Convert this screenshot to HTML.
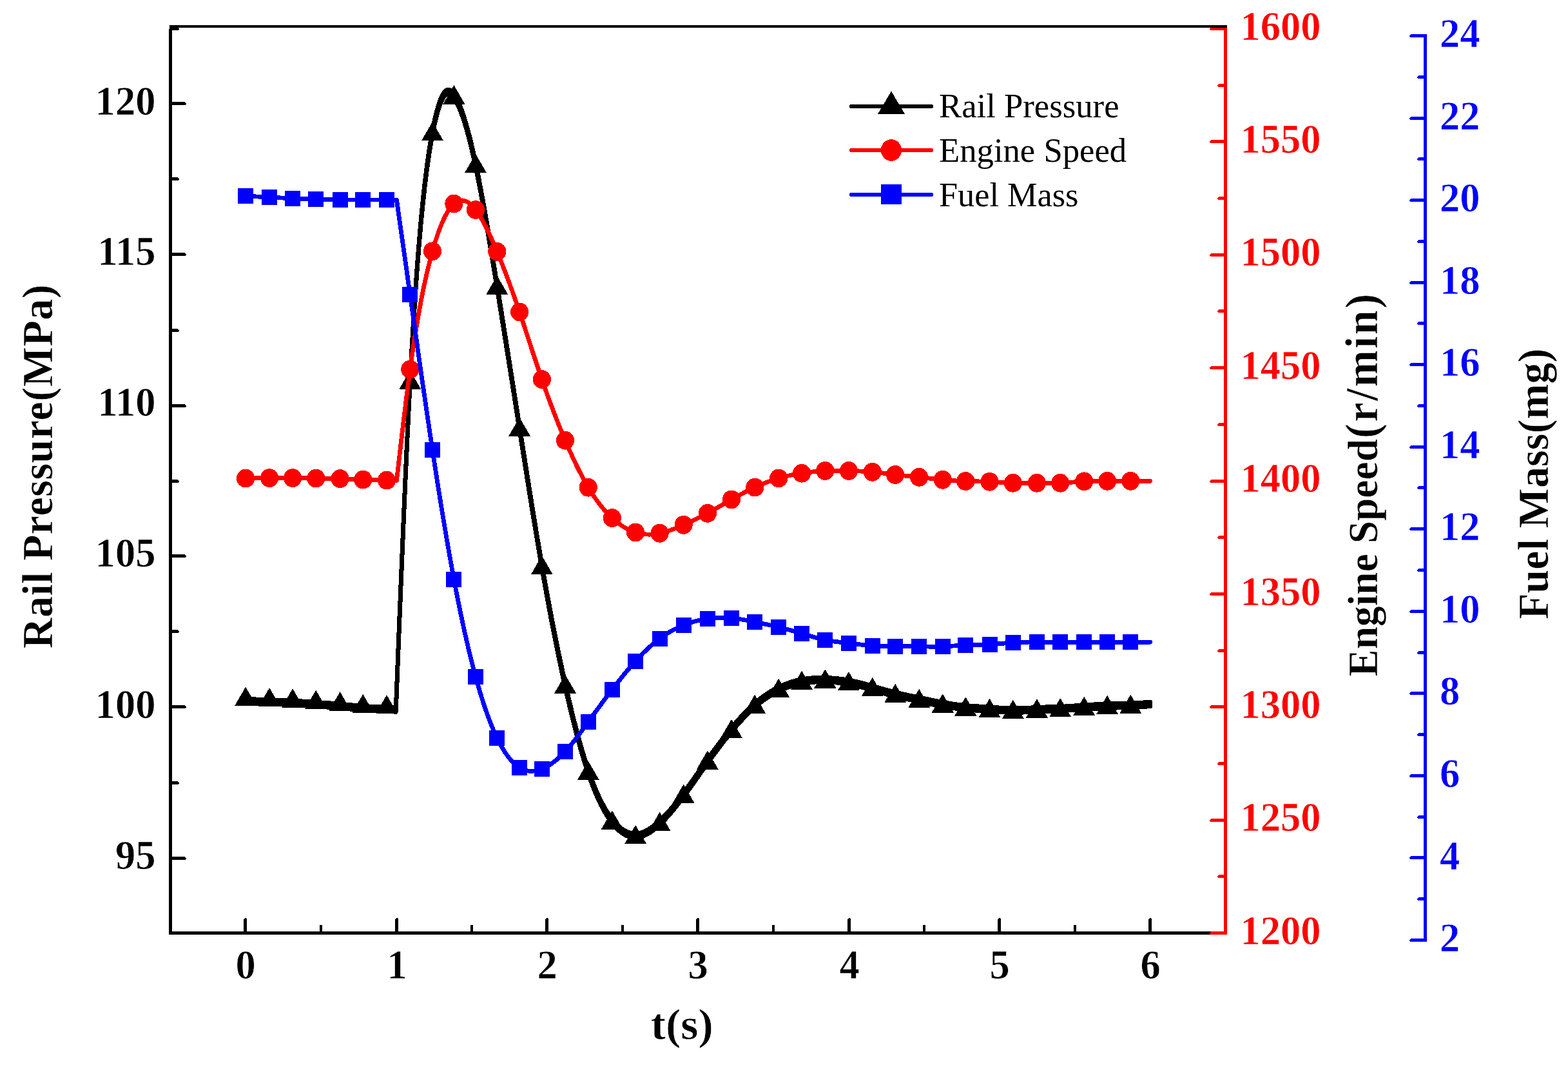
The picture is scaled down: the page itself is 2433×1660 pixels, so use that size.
<!DOCTYPE html>
<html lang="en"><head><meta charset="utf-8"><title>Rail pressure, engine speed and fuel mass</title>
<style>
html,body{margin:0;padding:0;background:#fff;}
body{width:2433px;height:1660px;overflow:hidden;}
svg{display:block;}
text{font-family:"Liberation Serif","DejaVu Serif",serif;}
.b{font-weight:bold;stroke:#fff;stroke-width:0.6px;}
.tk{font-weight:bold;font-size:63.2px;stroke-width:0.6px;}
.ti{font-weight:bold;font-size:66px;stroke:#fff;stroke-width:0.6px;}
.tx{font-weight:bold;font-size:68.5px;stroke:#fff;stroke-width:0.6px;}
.lg{font-size:52.5px;}
</style></head><body>
<svg width="2433" height="1660" viewBox="0 0 2433 1660" role="img" aria-label="Rail pressure, engine speed and fuel mass versus time">
<rect x="0" y="0" width="2433" height="1660" fill="#fff"/>
<defs>
<polyline id="ck" points="381.1,1087.7 418.1,1088.9 454.1,1090.2 490.2,1092.7 527.6,1095.2 563.2,1098.9 600,1100.1 614.3,1101 617.3,1025.4 620.3,950.5 623.3,877 626.3,805.6 629.3,736.9 632.3,671.8 635.3,610.9 638.3,554.8 641.3,503.6 644.3,457.1 647.3,415 650.3,377.1 653.3,343 656.3,312.5 659.3,285.3 662.3,261.2 665.3,239.8 668.3,220.9 671.3,204.3 674.3,189.7 677.3,177.1 680.3,166.5 683.3,157.8 686.3,151.1 689.3,146.3 692.3,143.4 695.3,142.4 698.3,143.2 701.3,145.5 704.3,149.1 707.3,153.7 710.3,159.5 713.3,166.2 716.3,173.9 719.3,182.5 722.3,192.1 725.3,202.5 728.3,213.8 731.3,225.9 734.3,238.8 737.3,252.5 740.3,266.9 743.3,282 746.3,297.7 749.3,313.9 752.3,330.7 755.3,347.9 758.3,365.4 761.3,383.3 764.3,401.5 767.3,419.9 770.3,438.4 773.3,457 776.3,475.7 779.3,494.5 782.3,513.3 785.3,532.1 788.3,551 791.3,570 794.3,589 797.3,608 800.3,627.1 803.3,646.2 806.3,665.3 809.3,684.4 812.3,703.5 815.3,722.6 818.3,741.5 821.3,760.4 824.3,779.2 827.3,797.7 830.3,816.1 833.3,834.2 836.3,852.1 839.3,869.7 842.3,887 845.3,903.9 848.3,920.5 851.3,936.8 854.3,952.8 857.3,968.4 860.3,983.7 863.3,998.6 866.3,1013.3 869.3,1027.6 872.3,1041.7 875.3,1055.4 878.3,1068.8 881.3,1081.9 884.3,1094.6 887.3,1107 890.3,1119.1 893.3,1130.8 896.3,1142.2 899.3,1153.1 902.3,1163.6 905.3,1173.8 908.3,1183.5 911.3,1192.7 914.3,1201.5 917.3,1209.9 920.3,1217.8 923.3,1225.3 926.3,1232.4 929.3,1239 932.3,1245.2 935.3,1251 938.3,1256.5 941.3,1261.5 944.3,1266.2 947.3,1270.6 950.3,1274.5 953.3,1278.2 956.3,1281.5 959.3,1284.4 962.3,1287 965.3,1289.3 968.3,1291.3 971.3,1292.9 974.3,1294.2 977.3,1295.2 980.3,1295.9 983.3,1296.3 986.3,1296.4 989.3,1296.2 992.3,1295.7 995.3,1294.9 998.3,1293.8 1001.3,1292.5 1004.3,1291 1007.3,1289.3 1010.3,1287.3 1013.3,1285.1 1016.3,1282.8 1019.3,1280.3 1022.3,1277.6 1025.3,1274.8 1028.3,1271.8 1031.3,1268.8 1034.3,1265.5 1037.3,1262.2 1040.3,1258.8 1043.3,1255.3 1046.3,1251.6 1049.3,1247.9 1052.3,1244.1 1055.3,1240.2 1058.3,1236.3 1061.3,1232.3 1064.3,1228.2 1067.3,1224.1 1070.3,1219.9 1073.3,1215.7 1076.3,1211.5 1079.3,1207.2 1082.3,1202.9 1085.3,1198.7 1088.3,1194.4 1091.3,1190.1 1094.3,1185.9 1097.3,1181.7 1100.3,1177.5 1103.3,1173.4 1106.3,1169.3 1109.3,1165.2 1112.3,1161.2 1115.3,1157.2 1118.3,1153.3 1121.3,1149.4 1124.3,1145.5 1127.3,1141.8 1130.3,1138 1133.3,1134.4 1136.3,1130.7 1139.3,1127.2 1142.3,1123.7 1145.3,1120.3 1148.3,1116.9 1151.3,1113.6 1154.3,1110.4 1157.3,1107.3 1160.3,1104.3 1163.3,1101.4 1166.3,1098.5 1169.3,1095.8 1172.3,1093.1 1175.3,1090.6 1178.3,1088.2 1181.3,1085.8 1184.3,1083.6 1187.3,1081.5 1190.3,1079.4 1193.3,1077.5 1196.3,1075.6 1199.3,1073.8 1202.3,1072.1 1205.3,1070.6 1208.3,1069.1 1211.3,1067.6 1214.3,1066.3 1217.3,1065 1220.3,1063.9 1223.3,1062.8 1226.3,1061.7 1229.3,1060.8 1232.3,1059.9 1235.3,1059.1 1238.3,1058.4 1241.3,1057.7 1244.3,1057.2 1247.3,1056.6 1250.3,1056.2 1253.3,1055.8 1256.3,1055.5 1259.3,1055.2 1262.3,1055 1265.3,1054.8 1268.3,1054.7 1271.3,1054.7 1274.3,1054.6 1277.3,1054.6 1280.3,1054.7 1283.3,1054.8 1286.3,1054.9 1289.3,1055.1 1292.3,1055.3 1295.3,1055.5 1298.3,1055.8 1301.3,1056.1 1304.3,1056.5 1307.3,1056.9 1310.3,1057.3 1313.3,1057.8 1316.3,1058.3 1319.3,1058.8 1322.3,1059.4 1325.3,1060.1 1328.3,1060.7 1331.3,1061.4 1334.3,1062.2 1337.3,1062.9 1340.3,1063.7 1343.3,1064.5 1346.3,1065.3 1349.3,1066.2 1352.3,1067 1355.3,1067.9 1358.3,1068.7 1361.3,1069.6 1364.3,1070.5 1367.3,1071.3 1370.3,1072.2 1373.3,1073 1376.3,1073.9 1379.3,1074.7 1382.3,1075.5 1385.3,1076.3 1388.3,1077.1 1391.3,1077.8 1394.3,1078.5 1397.3,1079.2 1400.3,1079.9 1403.3,1080.6 1406.3,1081.2 1409.3,1081.8 1412.3,1082.5 1415.3,1083.1 1418.3,1083.7 1421.3,1084.3 1424.3,1084.9 1427.3,1085.5 1430.3,1086.2 1433.3,1086.8 1436.3,1087.4 1439.3,1088 1442.3,1088.7 1445.3,1089.3 1448.3,1089.9 1451.3,1090.5 1454.3,1091.1 1457.3,1091.7 1460.3,1092.3 1463.3,1092.8 1466.3,1093.3 1469.3,1093.9 1472.3,1094.3 1475.3,1094.8 1478.3,1095.3 1481.3,1095.7 1484.3,1096.1 1487.3,1096.5 1490.3,1096.9 1493.3,1097.2 1496.3,1097.5 1499.3,1097.8 1502.3,1098.1 1505.3,1098.3 1508.3,1098.5 1511.3,1098.7 1514.3,1098.9 1517.3,1099.1 1520.3,1099.3 1523.3,1099.5 1526.3,1099.6 1529.3,1099.8 1532.3,1100 1535.3,1100.2 1538.3,1100.4 1541.3,1100.6 1544.3,1100.8 1547.3,1101 1550.3,1101.3 1553.3,1101.5 1556.3,1101.6 1559.3,1101.8 1562.3,1102 1565.3,1102.1 1568.3,1102.2 1571.3,1102.2 1574.3,1102.2 1577.3,1102.2 1580.3,1102.1 1583.3,1102 1586.3,1101.9 1589.3,1101.7 1592.3,1101.6 1595.3,1101.4 1598.3,1101.3 1601.3,1101.1 1604.3,1100.9 1607.3,1100.8 1610.3,1100.6 1613.3,1100.5 1616.3,1100.4 1619.3,1100.3 1622.3,1100.2 1625.3,1100.1 1628.3,1100.1 1631.3,1100 1634.3,1099.9 1637.3,1099.8 1640.3,1099.7 1643.3,1099.6 1646.3,1099.5 1649.3,1099.3 1652.3,1099.2 1655.3,1099 1658.3,1098.8 1661.3,1098.6 1664.3,1098.4 1667.3,1098.2 1670.3,1098 1673.3,1097.8 1676.3,1097.6 1679.3,1097.4 1682.3,1097.2 1685.3,1097 1688.3,1096.8 1691.3,1096.6 1694.3,1096.4 1697.3,1096.2 1700.3,1096 1703.3,1095.9 1706.3,1095.7 1709.3,1095.6 1712.3,1095.4 1715.3,1095.3 1718.3,1095.2 1721.3,1095.1 1724.3,1095 1727.3,1094.9 1730.3,1094.9 1733.3,1094.8 1736.3,1094.7 1739.3,1094.6 1742.3,1094.6 1745.3,1094.5 1748.3,1094.4 1751.3,1094.3 1754.3,1094.2 1757.3,1094.1 1760.3,1093.9 1763.3,1093.8 1766.3,1093.6 1769.3,1093.5 1772.3,1093.3 1775.3,1093.1 1778.3,1092.9 1781.3,1092.7 1784.3,1092.5 1784.5,1092.5"/>
<polyline id="cr" points="381.1,742.1 418.1,741.6 454.1,741.6 490.2,742.1 527.6,742.6 563.2,744.1 600,745.1 615.5,745.5 618.5,719.2 621.5,693.2 624.5,667.4 627.5,642.2 630.5,617.8 633.5,594.2 636.5,571.6 639.5,550.3 642.5,530.2 645.5,511.2 648.5,493.3 651.5,476.5 654.5,460.6 657.5,445.8 660.5,431.9 663.5,418.8 666.5,406.6 669.5,395.2 672.5,384.6 675.5,374.6 678.5,365.4 681.5,357 684.5,349.2 687.5,342.2 690.5,335.9 693.5,330.3 696.5,325.4 699.5,321.3 702.5,317.8 705.5,315.1 708.5,313 711.5,311.7 714.5,311 717.5,310.9 720.5,311.4 723.5,312.5 726.5,314.2 729.5,316.4 732.5,319.2 735.5,322.4 738.5,326.2 741.5,330.3 744.5,334.9 747.5,339.9 750.5,345.3 753.5,351 756.5,357 759.5,363.3 762.5,369.9 765.5,376.7 768.5,383.7 771.5,390.9 774.5,398.2 777.5,405.7 780.5,413.3 783.5,421.1 786.5,429 789.5,437 792.5,445.2 795.5,453.5 798.5,462 801.5,470.6 804.5,479.3 807.5,488.1 810.5,497.1 813.5,506.1 816.5,515.3 819.5,524.4 822.5,533.6 825.5,542.8 828.5,551.9 831.5,561 834.5,570 837.5,578.9 840.5,587.7 843.5,596.4 846.5,604.9 849.5,613.2 852.5,621.4 855.5,629.5 858.5,637.4 861.5,645.1 864.5,652.8 867.5,660.3 870.5,667.7 873.5,674.9 876.5,682 879.5,689 882.5,695.9 885.5,702.6 888.5,709.2 891.5,715.6 894.5,721.9 897.5,728 900.5,733.9 903.5,739.6 906.5,745.2 909.5,750.5 912.5,755.7 915.5,760.6 918.5,765.4 921.5,769.9 924.5,774.3 927.5,778.4 930.5,782.4 933.5,786.1 936.5,789.7 939.5,793.1 942.5,796.4 945.5,799.5 948.5,802.4 951.5,805.1 954.5,807.8 957.5,810.2 960.5,812.5 963.5,814.7 966.5,816.7 969.5,818.5 972.5,820.2 975.5,821.8 978.5,823.1 981.5,824.4 984.5,825.5 987.5,826.4 990.5,827.2 993.5,827.9 996.5,828.4 999.5,828.7 1002.5,829 1005.5,829.1 1008.5,829.1 1011.5,829 1014.5,828.7 1017.5,828.3 1020.5,827.9 1023.5,827.3 1026.5,826.7 1029.5,825.9 1032.5,825.1 1035.5,824.1 1038.5,823.2 1041.5,822.1 1044.5,821 1047.5,819.8 1050.5,818.6 1053.5,817.4 1056.5,816.1 1059.5,814.8 1062.5,813.5 1065.5,812.1 1068.5,810.8 1071.5,809.4 1074.5,808 1077.5,806.6 1080.5,805.2 1083.5,803.7 1086.5,802.2 1089.5,800.7 1092.5,799.1 1095.5,797.5 1098.5,795.9 1101.5,794.3 1104.5,792.6 1107.5,790.9 1110.5,789.2 1113.5,787.4 1116.5,785.7 1119.5,783.9 1122.5,782.2 1125.5,780.4 1128.5,778.6 1131.5,776.9 1134.5,775.2 1137.5,773.5 1140.5,771.8 1143.5,770.1 1146.5,768.5 1149.5,766.9 1152.5,765.3 1155.5,763.8 1158.5,762.2 1161.5,760.7 1164.5,759.3 1167.5,757.8 1170.5,756.4 1173.5,755 1176.5,753.7 1179.5,752.4 1182.5,751.1 1185.5,749.9 1188.5,748.7 1191.5,747.5 1194.5,746.4 1197.5,745.3 1200.5,744.3 1203.5,743.3 1206.5,742.4 1209.5,741.5 1212.5,740.7 1215.5,739.9 1218.5,739.1 1221.5,738.4 1224.5,737.8 1227.5,737.1 1230.5,736.5 1233.5,736 1236.5,735.4 1239.5,734.9 1242.5,734.5 1245.5,734 1248.5,733.5 1251.5,733.1 1254.5,732.7 1257.5,732.4 1260.5,732 1263.5,731.7 1266.5,731.4 1269.5,731.1 1272.5,730.9 1275.5,730.7 1278.5,730.5 1281.5,730.3 1284.5,730.2 1287.5,730.1 1290.5,730.1 1293.5,730.1 1296.5,730.1 1299.5,730.1 1302.5,730.1 1305.5,730.1 1308.5,730.2 1311.5,730.3 1314.5,730.3 1317.5,730.4 1320.5,730.5 1323.5,730.6 1326.5,730.7 1329.5,730.8 1332.5,730.9 1335.5,731.1 1338.5,731.2 1341.5,731.4 1344.5,731.6 1347.5,731.8 1350.5,732 1353.5,732.3 1356.5,732.6 1359.5,732.9 1362.5,733.2 1365.5,733.6 1368.5,733.9 1371.5,734.3 1374.5,734.7 1377.5,735.1 1380.5,735.4 1383.5,735.8 1386.5,736.2 1389.5,736.5 1392.5,736.9 1395.5,737.2 1398.5,737.5 1401.5,737.8 1404.5,738.1 1407.5,738.4 1410.5,738.7 1413.5,739 1416.5,739.3 1419.5,739.6 1422.5,739.9 1425.5,740.2 1428.5,740.5 1431.5,740.9 1434.5,741.2 1437.5,741.6 1440.5,741.9 1443.5,742.2 1446.5,742.6 1449.5,742.9 1452.5,743.3 1455.5,743.6 1458.5,743.9 1461.5,744.2 1464.5,744.5 1467.5,744.7 1470.5,745 1473.5,745.2 1476.5,745.4 1479.5,745.6 1482.5,745.8 1485.5,746 1488.5,746.1 1491.5,746.3 1494.5,746.4 1497.5,746.5 1500.5,746.6 1503.5,746.6 1506.5,746.7 1509.5,746.7 1512.5,746.8 1515.5,746.8 1518.5,746.9 1521.5,746.9 1524.5,747 1527.5,747 1530.5,747.1 1533.5,747.2 1536.5,747.3 1539.5,747.5 1542.5,747.7 1545.5,747.8 1548.5,748 1551.5,748.2 1554.5,748.4 1557.5,748.6 1560.5,748.8 1563.5,748.9 1566.5,749.1 1569.5,749.2 1572.5,749.3 1575.5,749.4 1578.5,749.4 1581.5,749.5 1584.5,749.5 1587.5,749.5 1590.5,749.4 1593.5,749.4 1596.5,749.4 1599.5,749.3 1602.5,749.3 1605.5,749.3 1608.5,749.3 1611.5,749.3 1614.5,749.3 1617.5,749.4 1620.5,749.4 1623.5,749.4 1626.5,749.5 1629.5,749.5 1632.5,749.5 1635.5,749.5 1638.5,749.5 1641.5,749.4 1644.5,749.3 1647.5,749.2 1650.5,749 1653.5,748.9 1656.5,748.7 1659.5,748.4 1662.5,748.2 1665.5,748 1668.5,747.7 1671.5,747.5 1674.5,747.3 1677.5,747.1 1680.5,746.9 1683.5,746.7 1686.5,746.6 1689.5,746.5 1692.5,746.4 1695.5,746.4 1698.5,746.3 1701.5,746.3 1704.5,746.3 1707.5,746.3 1710.5,746.3 1713.5,746.3 1716.5,746.3 1719.5,746.3 1722.5,746.3 1725.5,746.3 1728.5,746.3 1731.5,746.3 1734.5,746.3 1737.5,746.3 1740.5,746.3 1743.5,746.3 1746.5,746.3 1749.5,746.3 1752.5,746.3 1755.5,746.3 1758.5,746.3 1761.5,746.3 1764.5,746.3 1767.5,746.3 1770.5,746.3 1773.5,746.3 1776.5,746.3 1779.5,746.3 1782.5,746.3 1784.5,746.3"/>
<polyline id="cb" points="381.1,304.1 418.1,306 454.1,307.9 490.2,309.1 527.6,309.9 563.2,309.9 600,310.1 615.5,310.3 618.5,331.5 621.5,352.7 624.5,373.9 627.5,395.1 630.5,416.3 633.5,437.5 636.5,458.7 639.5,480 642.5,501.2 645.5,522.4 648.5,543.5 651.5,564.6 654.5,585.6 657.5,606.4 660.5,627.1 663.5,647.6 666.5,667.9 669.5,688 672.5,707.8 675.5,727.3 678.5,746.6 681.5,765.6 684.5,784.2 687.5,802.6 690.5,820.6 693.5,838.2 696.5,855.4 699.5,872.3 702.5,888.7 705.5,904.7 708.5,920.3 711.5,935.5 714.5,950.2 717.5,964.4 720.5,978.3 723.5,991.6 726.5,1004.6 729.5,1017.1 732.5,1029.1 735.5,1040.7 738.5,1051.8 741.5,1062.5 744.5,1072.7 747.5,1082.5 750.5,1091.9 753.5,1100.8 756.5,1109.2 759.5,1117.3 762.5,1124.9 765.5,1132.1 768.5,1138.9 771.5,1145.3 774.5,1151.3 777.5,1156.9 780.5,1162.1 783.5,1166.9 786.5,1171.3 789.5,1175.3 792.5,1179 795.5,1182.3 798.5,1185.2 801.5,1187.8 804.5,1190 807.5,1191.8 810.5,1193.3 813.5,1194.5 816.5,1195.4 819.5,1196 822.5,1196.3 825.5,1196.3 828.5,1196.1 831.5,1195.6 834.5,1194.9 837.5,1194 840.5,1192.9 843.5,1191.7 846.5,1190.2 849.5,1188.6 852.5,1186.8 855.5,1184.9 858.5,1182.7 861.5,1180.4 864.5,1178 867.5,1175.3 870.5,1172.5 873.5,1169.6 876.5,1166.4 879.5,1163.1 882.5,1159.7 885.5,1156.1 888.5,1152.4 891.5,1148.6 894.5,1144.7 897.5,1140.8 900.5,1136.7 903.5,1132.6 906.5,1128.5 909.5,1124.4 912.5,1120.2 915.5,1116.1 918.5,1111.9 921.5,1107.8 924.5,1103.7 927.5,1099.6 930.5,1095.6 933.5,1091.5 936.5,1087.5 939.5,1083.5 942.5,1079.5 945.5,1075.5 948.5,1071.6 951.5,1067.7 954.5,1063.8 957.5,1060 960.5,1056.2 963.5,1052.4 966.5,1048.7 969.5,1045 972.5,1041.4 975.5,1037.8 978.5,1034.3 981.5,1030.8 984.5,1027.5 987.5,1024.2 990.5,1020.9 993.5,1017.8 996.5,1014.7 999.5,1011.7 1002.5,1008.8 1005.5,1006 1008.5,1003.2 1011.5,1000.6 1014.5,998 1017.5,995.5 1020.5,993.2 1023.5,990.9 1026.5,988.7 1029.5,986.6 1032.5,984.6 1035.5,982.7 1038.5,980.8 1041.5,979.1 1044.5,977.5 1047.5,975.9 1050.5,974.4 1053.5,973 1056.5,971.6 1059.5,970.3 1062.5,969.1 1065.5,968 1068.5,967 1071.5,966 1074.5,965 1077.5,964.2 1080.5,963.4 1083.5,962.6 1086.5,961.9 1089.5,961.3 1092.5,960.7 1095.5,960.2 1098.5,959.8 1101.5,959.4 1104.5,959.1 1107.5,958.8 1110.5,958.6 1113.5,958.4 1116.5,958.3 1119.5,958.3 1122.5,958.3 1125.5,958.3 1128.5,958.4 1131.5,958.6 1134.5,958.9 1137.5,959.1 1140.5,959.5 1143.5,959.9 1146.5,960.3 1149.5,960.8 1152.5,961.3 1155.5,961.8 1158.5,962.4 1161.5,963 1164.5,963.5 1167.5,964.1 1170.5,964.8 1173.5,965.4 1176.5,966 1179.5,966.6 1182.5,967.2 1185.5,967.8 1188.5,968.5 1191.5,969.1 1194.5,969.8 1197.5,970.4 1200.5,971.1 1203.5,971.8 1206.5,972.5 1209.5,973.2 1212.5,974 1215.5,974.7 1218.5,975.5 1221.5,976.3 1224.5,977.1 1227.5,978 1230.5,978.8 1233.5,979.7 1236.5,980.5 1239.5,981.4 1242.5,982.3 1245.5,983.2 1248.5,984.1 1251.5,985 1254.5,986 1257.5,986.9 1260.5,987.7 1263.5,988.6 1266.5,989.4 1269.5,990.2 1272.5,991 1275.5,991.7 1278.5,992.4 1281.5,993 1284.5,993.6 1287.5,994.1 1290.5,994.6 1293.5,995 1296.5,995.5 1299.5,995.8 1302.5,996.2 1305.5,996.5 1308.5,996.9 1311.5,997.2 1314.5,997.5 1317.5,997.9 1320.5,998.2 1323.5,998.6 1326.5,998.9 1329.5,999.3 1332.5,999.7 1335.5,1000 1338.5,1000.4 1341.5,1000.7 1344.5,1001 1347.5,1001.3 1350.5,1001.5 1353.5,1001.8 1356.5,1002 1359.5,1002.2 1362.5,1002.3 1365.5,1002.4 1368.5,1002.5 1371.5,1002.6 1374.5,1002.7 1377.5,1002.7 1380.5,1002.8 1383.5,1002.8 1386.5,1002.8 1389.5,1002.8 1392.5,1002.8 1395.5,1002.8 1398.5,1002.8 1401.5,1002.8 1404.5,1002.8 1407.5,1002.8 1410.5,1002.8 1413.5,1002.8 1416.5,1002.8 1419.5,1002.8 1422.5,1002.9 1425.5,1002.9 1428.5,1002.9 1431.5,1003 1434.5,1003 1437.5,1003 1440.5,1003.1 1443.5,1003.1 1446.5,1003.1 1449.5,1003.1 1452.5,1003.1 1455.5,1003.1 1458.5,1003 1461.5,1002.9 1464.5,1002.8 1467.5,1002.7 1470.5,1002.5 1473.5,1002.4 1476.5,1002.2 1479.5,1002 1482.5,1001.8 1485.5,1001.6 1488.5,1001.4 1491.5,1001.2 1494.5,1001.1 1497.5,1000.9 1500.5,1000.8 1503.5,1000.7 1506.5,1000.7 1509.5,1000.6 1512.5,1000.5 1515.5,1000.5 1518.5,1000.5 1521.5,1000.4 1524.5,1000.3 1527.5,1000.2 1530.5,1000.1 1533.5,1000 1536.5,999.8 1539.5,999.6 1542.5,999.4 1545.5,999.2 1548.5,998.9 1551.5,998.6 1554.5,998.4 1557.5,998.1 1560.5,997.8 1563.5,997.5 1566.5,997.3 1569.5,997.1 1572.5,996.9 1575.5,996.7 1578.5,996.5 1581.5,996.4 1584.5,996.3 1587.5,996.3 1590.5,996.2 1593.5,996.2 1596.5,996.1 1599.5,996.1 1602.5,996.1 1605.5,996.1 1608.5,996.1 1611.5,996.1 1614.5,996.1 1617.5,996.1 1620.5,996.1 1623.5,996.1 1626.5,996.1 1629.5,996.1 1632.5,996.1 1635.5,996.1 1638.5,996.1 1641.5,996.1 1644.5,996.1 1647.5,996.1 1650.5,996.1 1653.5,996.1 1656.5,996.1 1659.5,996.1 1662.5,996.1 1665.5,996.1 1668.5,996.1 1671.5,996.1 1674.5,996.1 1677.5,996.1 1680.5,996.1 1683.5,996.1 1686.5,996.1 1689.5,996.1 1692.5,996.1 1695.5,996.1 1698.5,996.1 1701.5,996.1 1704.5,996.1 1707.5,996.1 1710.5,996.1 1713.5,996.1 1716.5,996.1 1719.5,996.1 1722.5,996.1 1725.5,996.1 1728.5,996.1 1731.5,996.1 1734.5,996.1 1737.5,996.1 1740.5,996.1 1743.5,996.1 1746.5,996.1 1749.5,996.1 1752.5,996.1 1755.5,996.1 1758.5,996.1 1761.5,996.1 1764.5,996.1 1767.5,996.1 1770.5,996.1 1773.5,996.1 1776.5,996.1 1779.5,996.1 1782.5,996.1 1784.5,996.1"/>
</defs>
<g shape-rendering="crispEdges" stroke-linejoin="round" stroke-linecap="round">
<g fill="none" stroke="#000" stroke-width="6.8">
<use href="#ck" transform="translate(0,-3.3)"/>
<use href="#ck" transform="translate(0,0)"/>
<use href="#ck" transform="translate(0,3.3)"/>
</g>
<g fill="#000">
<polygon points="364.1,1095 398.1,1095 381.1,1065.7"/>
<polygon points="401.1,1096.2 435.1,1096.2 418.1,1066.9"/>
<polygon points="437.1,1097.5 471.1,1097.5 454.1,1068.2"/>
<polygon points="473.2,1100 507.2,1100 490.2,1070.7"/>
<polygon points="510.6,1102.5 544.6,1102.5 527.6,1073.2"/>
<polygon points="546.2,1106.2 580.2,1106.2 563.2,1076.9"/>
<polygon points="583,1107.4 617,1107.4 600,1078.1"/>
<polygon points="619.3,603.9 653.3,603.9 636.3,574.6"/>
<polygon points="654,218.2 688,218.2 671,188.9"/>
<polygon points="687.4,161.5 721.4,161.5 704.4,132.2"/>
<polygon points="721,268.1 755,268.1 738,238.8"/>
<polygon points="754.3,456.9 788.3,456.9 771.3,427.6"/>
<polygon points="789.1,676.8 823.1,676.8 806.1,647.5"/>
<polygon points="823.8,891.2 857.8,891.2 840.8,861.9"/>
<polygon points="860,1075.8 894,1075.8 877,1046.5"/>
<polygon points="895.8,1210 929.8,1210 912.8,1180.7"/>
<polygon points="932.8,1286.7 966.8,1286.7 949.8,1257.4"/>
<polygon points="969.1,1309.2 1003.1,1309.2 986.1,1279.9"/>
<polygon points="1006.6,1289.2 1040.6,1289.2 1023.6,1259.9"/>
<polygon points="1043.6,1246 1077.6,1246 1060.6,1216.7"/>
<polygon points="1080.8,1193.8 1114.8,1193.8 1097.8,1164.5"/>
<polygon points="1118,1145.1 1152,1145.1 1135,1115.8"/>
<polygon points="1154.2,1106.9 1188.2,1106.9 1171.2,1077.6"/>
<polygon points="1191.2,1081.9 1225.2,1081.9 1208.2,1052.6"/>
<polygon points="1227.1,1070 1261.1,1070 1244.1,1040.7"/>
<polygon points="1263.3,1067.5 1297.3,1067.5 1280.3,1038.2"/>
<polygon points="1299.9,1071.2 1333.9,1071.2 1316.9,1041.9"/>
<polygon points="1336.7,1080.2 1370.7,1080.2 1353.7,1050.9"/>
<polygon points="1372.2,1090.1 1406.2,1090.1 1389.2,1060.8"/>
<polygon points="1409.2,1098.1 1443.2,1098.1 1426.2,1068.8"/>
<polygon points="1445.7,1105.5 1479.7,1105.5 1462.7,1076.2"/>
<polygon points="1481.3,1110.5 1515.3,1110.5 1498.3,1081.2"/>
<polygon points="1518.5,1113 1552.5,1113 1535.5,1083.7"/>
<polygon points="1554.8,1115 1588.8,1115 1571.8,1085.7"/>
<polygon points="1591.9,1113.5 1625.9,1113.5 1608.9,1084.2"/>
<polygon points="1628.2,1112.3 1662.2,1112.3 1645.2,1083"/>
<polygon points="1665.2,1110 1699.2,1110 1682.2,1080.7"/>
<polygon points="1701.1,1108 1735.1,1108 1718.1,1078.7"/>
<polygon points="1737.3,1107 1771.3,1107 1754.3,1077.7"/>
</g>
<g fill="none" stroke="#ff0000">
<use href="#cr" stroke-width="6.8"/>
<use href="#cr" stroke-width="4" shape-rendering="geometricPrecision"/>
</g>
<g fill="#ff0000">
<ellipse cx="381.1" cy="742.1" rx="14.1" ry="14.4"/>
<ellipse cx="418.1" cy="741.6" rx="14.1" ry="14.4"/>
<ellipse cx="454.1" cy="741.6" rx="14.1" ry="14.4"/>
<ellipse cx="490.2" cy="742.1" rx="14.1" ry="14.4"/>
<ellipse cx="527.6" cy="742.6" rx="14.1" ry="14.4"/>
<ellipse cx="563.2" cy="744.1" rx="14.1" ry="14.4"/>
<ellipse cx="600" cy="745.1" rx="14.1" ry="14.4"/>
<ellipse cx="636.3" cy="573.1" rx="14.1" ry="14.4"/>
<ellipse cx="671" cy="389.8" rx="14.1" ry="14.4"/>
<ellipse cx="704.4" cy="316" rx="14.1" ry="14.4"/>
<ellipse cx="738" cy="325.5" rx="14.1" ry="14.4"/>
<ellipse cx="771.3" cy="390.4" rx="14.1" ry="14.4"/>
<ellipse cx="806.1" cy="484" rx="14.1" ry="14.4"/>
<ellipse cx="840.8" cy="588.6" rx="14.1" ry="14.4"/>
<ellipse cx="877" cy="683.2" rx="14.1" ry="14.4"/>
<ellipse cx="912.8" cy="756.2" rx="14.1" ry="14.4"/>
<ellipse cx="949.8" cy="803.6" rx="14.1" ry="14.4"/>
<ellipse cx="986.1" cy="826" rx="14.1" ry="14.4"/>
<ellipse cx="1023.6" cy="827.3" rx="14.1" ry="14.4"/>
<ellipse cx="1060.6" cy="814.3" rx="14.1" ry="14.4"/>
<ellipse cx="1097.8" cy="796.3" rx="14.1" ry="14.4"/>
<ellipse cx="1135" cy="774.9" rx="14.1" ry="14.4"/>
<ellipse cx="1171.2" cy="756.1" rx="14.1" ry="14.4"/>
<ellipse cx="1208.2" cy="741.9" rx="14.1" ry="14.4"/>
<ellipse cx="1244.1" cy="734.2" rx="14.1" ry="14.4"/>
<ellipse cx="1280.3" cy="730.4" rx="14.1" ry="14.4"/>
<ellipse cx="1316.9" cy="730.4" rx="14.1" ry="14.4"/>
<ellipse cx="1353.7" cy="732.3" rx="14.1" ry="14.4"/>
<ellipse cx="1389.2" cy="736.5" rx="14.1" ry="14.4"/>
<ellipse cx="1426.2" cy="740.3" rx="14.1" ry="14.4"/>
<ellipse cx="1462.7" cy="744.3" rx="14.1" ry="14.4"/>
<ellipse cx="1498.3" cy="746.5" rx="14.1" ry="14.4"/>
<ellipse cx="1535.5" cy="747.3" rx="14.1" ry="14.4"/>
<ellipse cx="1571.8" cy="749.3" rx="14.1" ry="14.4"/>
<ellipse cx="1608.9" cy="749.3" rx="14.1" ry="14.4"/>
<ellipse cx="1645.2" cy="749.3" rx="14.1" ry="14.4"/>
<ellipse cx="1682.2" cy="746.8" rx="14.1" ry="14.4"/>
<ellipse cx="1718.1" cy="746.3" rx="14.1" ry="14.4"/>
<ellipse cx="1754.3" cy="746.3" rx="14.1" ry="14.4"/>
</g>
<g fill="none" stroke="#0000ff">
<use href="#cb" stroke-width="6.8"/>
<use href="#cb" stroke-width="4" shape-rendering="geometricPrecision"/>
</g>
<g fill="#0000ff">
<rect x="369.1" y="292.1" width="24" height="24"/>
<rect x="406.1" y="294" width="24" height="24"/>
<rect x="442.1" y="295.9" width="24" height="24"/>
<rect x="478.2" y="297.1" width="24" height="24"/>
<rect x="515.6" y="297.9" width="24" height="24"/>
<rect x="551.2" y="297.9" width="24" height="24"/>
<rect x="588" y="298.1" width="24" height="24"/>
<rect x="624.3" y="445.3" width="24" height="24"/>
<rect x="659" y="685.9" width="24" height="24"/>
<rect x="692.4" y="886.9" width="24" height="24"/>
<rect x="726" y="1038" width="24" height="24"/>
<rect x="759.3" y="1132.9" width="24" height="24"/>
<rect x="794.1" y="1179" width="24" height="24"/>
<rect x="828.8" y="1180.8" width="24" height="24"/>
<rect x="865" y="1153.9" width="24" height="24"/>
<rect x="900.8" y="1107.8" width="24" height="24"/>
<rect x="937.8" y="1057.9" width="24" height="24"/>
<rect x="974.1" y="1013.7" width="24" height="24"/>
<rect x="1011.6" y="978.8" width="24" height="24"/>
<rect x="1048.6" y="957.9" width="24" height="24"/>
<rect x="1085.8" y="947.9" width="24" height="24"/>
<rect x="1123" y="946.9" width="24" height="24"/>
<rect x="1159.2" y="952.9" width="24" height="24"/>
<rect x="1196.2" y="960.9" width="24" height="24"/>
<rect x="1232.1" y="970.8" width="24" height="24"/>
<rect x="1268.3" y="980.8" width="24" height="24"/>
<rect x="1304.9" y="985.8" width="24" height="24"/>
<rect x="1341.7" y="989.8" width="24" height="24"/>
<rect x="1377.2" y="990.8" width="24" height="24"/>
<rect x="1414.2" y="990.9" width="24" height="24"/>
<rect x="1450.7" y="990.9" width="24" height="24"/>
<rect x="1486.3" y="988.9" width="24" height="24"/>
<rect x="1523.5" y="987.9" width="24" height="24"/>
<rect x="1559.8" y="984.9" width="24" height="24"/>
<rect x="1596.9" y="984.1" width="24" height="24"/>
<rect x="1633.2" y="984.1" width="24" height="24"/>
<rect x="1670.2" y="984.1" width="24" height="24"/>
<rect x="1706.1" y="984.1" width="24" height="24"/>
<rect x="1742.3" y="984.1" width="24" height="24"/>
</g>
</g>
<g shape-rendering="crispEdges">
<rect x="262" y="45" width="5" height="1405" fill="#000"/>
<rect x="262" y="1445" width="1642" height="5" fill="#000"/>
<polygon fill="#000" points="287,1329 262,1329 262,1334 288,1334 288,1333 289,1333 289,1331 288,1331 288,1330 287,1330"/>
<polygon fill="#000" points="276,1212 262,1212 262,1217 277,1217 277,1216 278,1216 278,1214 277,1214 277,1213 276,1213"/>
<polygon fill="#000" points="287,1094 262,1094 262,1099 288,1099 288,1098 289,1098 289,1096 288,1096 288,1095 287,1095"/>
<polygon fill="#000" points="276,977 262,977 262,982 277,982 277,981 278,981 278,979 277,979 277,978 276,978"/>
<polygon fill="#000" points="287,860 262,860 262,865 288,865 288,864 289,864 289,862 288,862 288,861 287,861"/>
<polygon fill="#000" points="276,744 262,744 262,749 277,749 277,748 278,748 278,746 277,746 277,745 276,745"/>
<polygon fill="#000" points="287,627 262,627 262,632 288,632 288,631 289,631 289,629 288,629 288,628 287,628"/>
<polygon fill="#000" points="276,510 262,510 262,515 277,515 277,514 278,514 278,512 277,512 277,511 276,511"/>
<polygon fill="#000" points="287,392 262,392 262,397 288,397 288,396 289,396 289,394 288,394 288,393 287,393"/>
<polygon fill="#000" points="276,275 262,275 262,280 277,280 277,279 278,279 278,277 277,277 277,276 276,276"/>
<polygon fill="#000" points="287,158 262,158 262,163 288,163 288,162 289,162 289,160 288,160 288,159 287,159"/>
<polygon fill="#000" points="276,42 263,42 263,47 277,47 277,46 278,46 278,44 277,44 277,43 276,43"/>
<polygon fill="#000" points="378,1446 378,1426 379,1426 379,1425 380,1425 380,1424 382,1424 382,1425 383,1425 383,1446"/>
<polygon fill="#000" points="613,1446 613,1426 614,1426 614,1425 615,1425 615,1424 617,1424 617,1425 618,1425 618,1446"/>
<polygon fill="#000" points="846,1446 846,1426 847,1426 847,1425 848,1425 848,1424 850,1424 850,1425 851,1425 851,1446"/>
<polygon fill="#000" points="1080,1446 1080,1426 1081,1426 1081,1425 1082,1425 1082,1424 1084,1424 1084,1425 1085,1425 1085,1446"/>
<polygon fill="#000" points="1315,1446 1315,1426 1316,1426 1316,1425 1317,1425 1317,1424 1319,1424 1319,1425 1320,1425 1320,1446"/>
<polygon fill="#000" points="1548,1446 1548,1426 1549,1426 1549,1425 1550,1425 1550,1424 1552,1424 1552,1425 1553,1425 1553,1446"/>
<polygon fill="#000" points="1782,1446 1782,1426 1783,1426 1783,1425 1784,1425 1784,1424 1786,1424 1786,1425 1787,1425 1787,1446"/>
<rect x="496" y="1435" width="4" height="11" fill="#000"/>
<rect x="730" y="1435" width="4" height="11" fill="#000"/>
<rect x="964" y="1435" width="4" height="11" fill="#000"/>
<rect x="1198" y="1435" width="4" height="11" fill="#000"/>
<rect x="1432" y="1435" width="4" height="11" fill="#000"/>
<rect x="1666" y="1435" width="4" height="11" fill="#000"/>
<rect x="1899" y="43" width="5" height="1407" fill="#f00"/>
<polygon fill="#f00" points="1879,1445 1904,1445 1904,1450 1879,1450 1879,1450 1878,1450 1878,1449 1877,1449 1877,1447 1878,1447 1878,1446 1879,1446"/>
<polygon fill="#f00" points="1891,1357 1904,1357 1904,1362 1891,1362 1891,1362 1890,1362 1890,1361 1889,1361 1889,1359 1890,1359 1890,1358 1891,1358"/>
<polygon fill="#f00" points="1879,1270 1904,1270 1904,1275 1879,1275 1879,1275 1878,1275 1878,1274 1877,1274 1877,1272 1878,1272 1878,1271 1879,1271"/>
<polygon fill="#f00" points="1891,1182 1904,1182 1904,1187 1891,1187 1891,1187 1890,1187 1890,1186 1889,1186 1889,1184 1890,1184 1890,1183 1891,1183"/>
<polygon fill="#f00" points="1879,1094 1904,1094 1904,1099 1879,1099 1879,1099 1878,1099 1878,1098 1877,1098 1877,1096 1878,1096 1878,1095 1879,1095"/>
<polygon fill="#f00" points="1891,1007 1904,1007 1904,1012 1891,1012 1891,1012 1890,1012 1890,1011 1889,1011 1889,1009 1890,1009 1890,1008 1891,1008"/>
<polygon fill="#f00" points="1879,919 1904,919 1904,924 1879,924 1879,924 1878,924 1878,923 1877,923 1877,921 1878,921 1878,920 1879,920"/>
<polygon fill="#f00" points="1891,831 1904,831 1904,836 1891,836 1891,836 1890,836 1890,835 1889,835 1889,833 1890,833 1890,832 1891,832"/>
<polygon fill="#f00" points="1879,744 1904,744 1904,749 1879,749 1879,749 1878,749 1878,748 1877,748 1877,746 1878,746 1878,745 1879,745"/>
<polygon fill="#f00" points="1891,656 1904,656 1904,661 1891,661 1891,661 1890,661 1890,660 1889,660 1889,658 1890,658 1890,657 1891,657"/>
<polygon fill="#f00" points="1879,568 1904,568 1904,573 1879,573 1879,573 1878,573 1878,572 1877,572 1877,570 1878,570 1878,569 1879,569"/>
<polygon fill="#f00" points="1891,480 1904,480 1904,485 1891,485 1891,485 1890,485 1890,484 1889,484 1889,482 1890,482 1890,481 1891,481"/>
<polygon fill="#f00" points="1879,393 1904,393 1904,398 1879,398 1879,398 1878,398 1878,397 1877,397 1877,395 1878,395 1878,394 1879,394"/>
<polygon fill="#f00" points="1891,305 1904,305 1904,310 1891,310 1891,310 1890,310 1890,309 1889,309 1889,307 1890,307 1890,306 1891,306"/>
<polygon fill="#f00" points="1879,217 1904,217 1904,222 1879,222 1879,222 1878,222 1878,221 1877,221 1877,219 1878,219 1878,218 1879,218"/>
<polygon fill="#f00" points="1891,130 1904,130 1904,135 1891,135 1891,135 1890,135 1890,134 1889,134 1889,132 1890,132 1890,131 1891,131"/>
<polygon fill="#f00" points="1879,42 1904,42 1904,47 1879,47 1879,47 1878,47 1878,46 1877,46 1877,44 1878,44 1878,43 1879,43"/>
<rect x="263" y="39" width="1641" height="4" fill="#000"/>
<rect x="2209" y="53" width="5" height="1408" fill="#00f"/>
<polygon fill="#00f" points="2189,1456 2214,1456 2214,1461 2189,1461 2189,1461 2188,1461 2188,1460 2187,1460 2187,1458 2188,1458 2188,1457 2189,1457"/>
<polygon fill="#00f" points="2201,1392 2214,1392 2214,1397 2201,1397 2201,1397 2200,1397 2200,1396 2199,1396 2199,1394 2200,1394 2200,1393 2201,1393"/>
<polygon fill="#00f" points="2189,1328 2214,1328 2214,1333 2189,1333 2189,1333 2188,1333 2188,1332 2187,1332 2187,1330 2188,1330 2188,1329 2189,1329"/>
<polygon fill="#00f" points="2201,1265 2214,1265 2214,1270 2201,1270 2201,1270 2200,1270 2200,1269 2199,1269 2199,1267 2200,1267 2200,1266 2201,1266"/>
<polygon fill="#00f" points="2189,1201 2214,1201 2214,1206 2189,1206 2189,1206 2188,1206 2188,1205 2187,1205 2187,1203 2188,1203 2188,1202 2189,1202"/>
<polygon fill="#00f" points="2201,1137 2214,1137 2214,1142 2201,1142 2201,1142 2200,1142 2200,1141 2199,1141 2199,1139 2200,1139 2200,1138 2201,1138"/>
<polygon fill="#00f" points="2189,1073 2214,1073 2214,1078 2189,1078 2189,1078 2188,1078 2188,1077 2187,1077 2187,1075 2188,1075 2188,1074 2189,1074"/>
<polygon fill="#00f" points="2201,1010 2214,1010 2214,1015 2201,1015 2201,1015 2200,1015 2200,1014 2199,1014 2199,1012 2200,1012 2200,1011 2201,1011"/>
<polygon fill="#00f" points="2189,946 2214,946 2214,951 2189,951 2189,951 2188,951 2188,950 2187,950 2187,948 2188,948 2188,947 2189,947"/>
<polygon fill="#00f" points="2201,882 2214,882 2214,887 2201,887 2201,887 2200,887 2200,886 2199,886 2199,884 2200,884 2200,883 2201,883"/>
<polygon fill="#00f" points="2189,818 2214,818 2214,823 2189,823 2189,823 2188,823 2188,822 2187,822 2187,820 2188,820 2188,819 2189,819"/>
<polygon fill="#00f" points="2201,754 2214,754 2214,759 2201,759 2201,759 2200,759 2200,758 2199,758 2199,756 2200,756 2200,755 2201,755"/>
<polygon fill="#00f" points="2189,691 2214,691 2214,696 2189,696 2189,696 2188,696 2188,695 2187,695 2187,693 2188,693 2188,692 2189,692"/>
<polygon fill="#00f" points="2201,627 2214,627 2214,632 2201,632 2201,632 2200,632 2200,631 2199,631 2199,629 2200,629 2200,628 2201,628"/>
<polygon fill="#00f" points="2189,563 2214,563 2214,568 2189,568 2189,568 2188,568 2188,567 2187,567 2187,565 2188,565 2188,564 2189,564"/>
<polygon fill="#00f" points="2201,499 2214,499 2214,504 2201,504 2201,504 2200,504 2200,503 2199,503 2199,501 2200,501 2200,500 2201,500"/>
<polygon fill="#00f" points="2189,436 2214,436 2214,441 2189,441 2189,441 2188,441 2188,440 2187,440 2187,438 2188,438 2188,437 2189,437"/>
<polygon fill="#00f" points="2201,372 2214,372 2214,377 2201,377 2201,377 2200,377 2200,376 2199,376 2199,374 2200,374 2200,373 2201,373"/>
<polygon fill="#00f" points="2189,308 2214,308 2214,313 2189,313 2189,313 2188,313 2188,312 2187,312 2187,310 2188,310 2188,309 2189,309"/>
<polygon fill="#00f" points="2201,244 2214,244 2214,249 2201,249 2201,249 2200,249 2200,248 2199,248 2199,246 2200,246 2200,245 2201,245"/>
<polygon fill="#00f" points="2189,181 2214,181 2214,186 2189,186 2189,186 2188,186 2188,185 2187,185 2187,183 2188,183 2188,182 2189,182"/>
<polygon fill="#00f" points="2201,117 2214,117 2214,122 2201,122 2201,122 2200,122 2200,121 2199,121 2199,119 2200,119 2200,118 2201,118"/>
<polygon fill="#00f" points="2189,53 2214,53 2214,58 2189,58 2189,58 2188,58 2188,57 2187,57 2187,55 2188,55 2188,54 2189,54"/>
</g>
<g class="tk" fill="#000" stroke="#fff" text-anchor="end">
<text transform="translate(241.5,1347.7) scale(0.989,1)">95</text>
<text transform="translate(241.5,1113.5) scale(0.989,1)">100</text>
<text transform="translate(241.5,879.4) scale(0.989,1)">105</text>
<text transform="translate(241.5,645.2) scale(0.989,1)">110</text>
<text transform="translate(241.5,411.4) scale(0.989,1)">115</text>
<text transform="translate(241.5,177.5) scale(0.989,1)">120</text>
</g>
<g class="tk" fill="#000" stroke="#fff" text-anchor="middle">
<text transform="translate(381,1517.5) scale(0.989,1)">0</text>
<text transform="translate(616,1517.5) scale(0.989,1)">1</text>
<text transform="translate(849,1517.5) scale(0.989,1)">2</text>
<text transform="translate(1083,1517.5) scale(0.989,1)">3</text>
<text transform="translate(1318,1517.5) scale(0.989,1)">4</text>
<text transform="translate(1551,1517.5) scale(0.989,1)">5</text>
<text transform="translate(1785,1517.5) scale(0.989,1)">6</text>
</g>
<g class="tk" fill="#f00" stroke="#fff" text-anchor="start">
<text transform="translate(1924.5,1464.6) scale(0.989,1)">1200</text>
<text transform="translate(1924.5,1289.2) scale(0.989,1)">1250</text>
<text transform="translate(1924.5,1113.8) scale(0.989,1)">1300</text>
<text transform="translate(1924.5,938.5) scale(0.989,1)">1350</text>
<text transform="translate(1924.5,763.1) scale(0.989,1)">1400</text>
<text transform="translate(1924.5,587.7) scale(0.989,1)">1450</text>
<text transform="translate(1924.5,412.4) scale(0.989,1)">1500</text>
<text transform="translate(1924.5,237) scale(0.989,1)">1550</text>
<text transform="translate(1924.5,61.6) scale(0.989,1)">1600</text>
</g>
<g class="tk" fill="#00f" stroke="#fff" text-anchor="start">
<text transform="translate(2234,1476) scale(0.989,1)">2</text>
<text transform="translate(2234,1348.5) scale(0.989,1)">4</text>
<text transform="translate(2234,1220.9) scale(0.989,1)">6</text>
<text transform="translate(2234,1093.4) scale(0.989,1)">8</text>
<text transform="translate(2234,965.8) scale(0.989,1)">10</text>
<text transform="translate(2234,838.3) scale(0.989,1)">12</text>
<text transform="translate(2234,710.7) scale(0.989,1)">14</text>
<text transform="translate(2234,583.2) scale(0.989,1)">16</text>
<text transform="translate(2234,455.6) scale(0.989,1)">18</text>
<text transform="translate(2234,328.1) scale(0.989,1)">20</text>
<text transform="translate(2234,200.5) scale(0.989,1)">22</text>
<text transform="translate(2234,73) scale(0.989,1)">24</text>
</g>
<g fill="#000">
<text class="ti" text-anchor="middle" style="letter-spacing:0.5px" transform="translate(80.9,723.5) rotate(-90) scale(1,1.035)">Rail Pressure(MPa)</text>
<text class="b" style="font-size:63.5px" transform="translate(2137.3,1049.7) rotate(-90) scale(1,1.02)">Engine Speed</text>
<text class="b" style="font-size:68.5px;letter-spacing:2.5px" transform="translate(2136.6,680) rotate(-90) scale(1,1.035)">(r/min)</text>
<text class="ti" text-anchor="middle" style="letter-spacing:0.05px" transform="translate(2402.1,750.6) rotate(-90) scale(1,1.035)">Fuel Mass(mg)</text>
<text class="tx" text-anchor="middle" transform="translate(1058.3,1611.5) scale(1.02,1)">t(s)</text>
</g>
<g shape-rendering="crispEdges" stroke-linecap="round" stroke-width="6" fill="none">
<line x1="1321" y1="165" x2="1445" y2="165" stroke="#000"/>
<line x1="1321" y1="233" x2="1445" y2="233" stroke="#f00"/>
<line x1="1321" y1="302" x2="1445" y2="302" stroke="#00f"/>
</g>
<g shape-rendering="crispEdges">
<polygon points="1362,177 1404,177 1383,141.5" fill="#000"/>
<ellipse cx="1383" cy="233" rx="16.1" ry="16.8" fill="#f00"/>
<rect x="1367" y="286" width="32" height="31" fill="#00f"/>
</g>
<g class="lg" fill="#000">
<text transform="translate(1457,181.6) scale(1.004,1.015)">Rail Pressure</text>
<text transform="translate(1457,251.4) scale(1.004,1.015)">Engine Speed</text>
<text transform="translate(1457,319.9) scale(0.996,1.015)">Fuel Mass</text>
</g>
</svg>
</body></html>
